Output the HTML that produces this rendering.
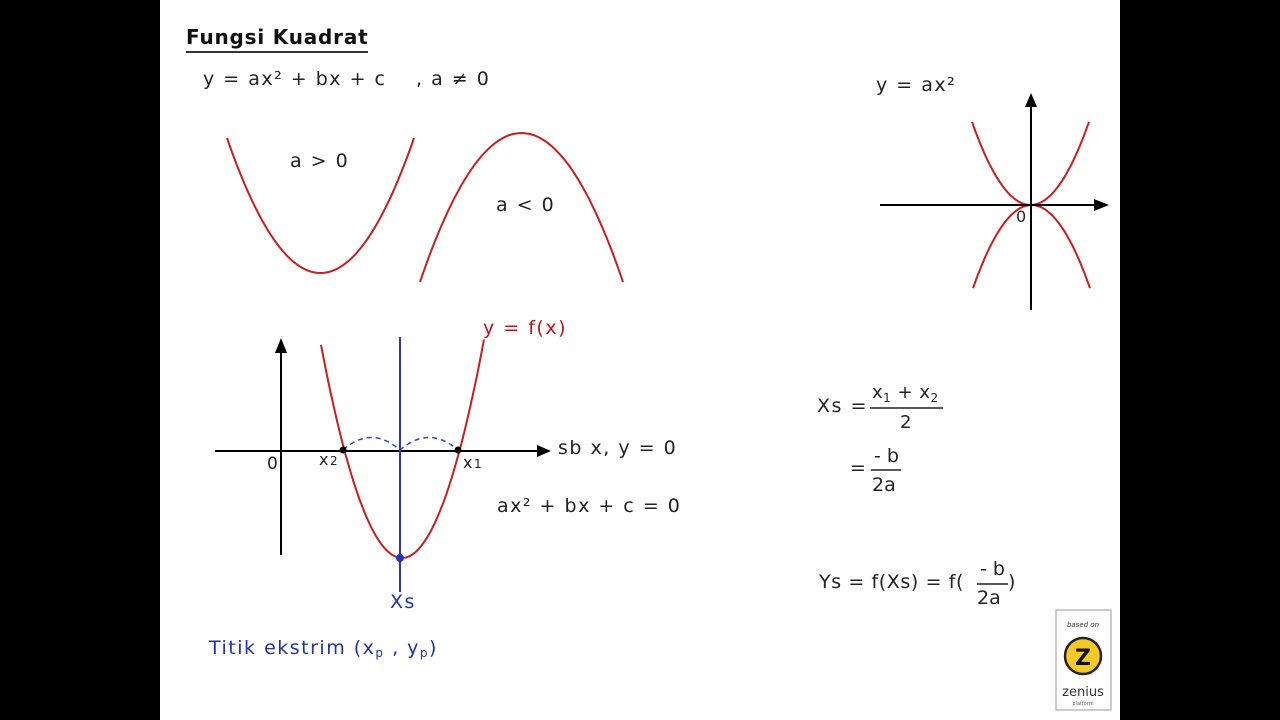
<!DOCTYPE html>
<html><head><meta charset="utf-8"><style>
html,body{margin:0;padding:0;background:#000;width:1280px;height:720px;overflow:hidden}
svg{display:block}
text{font-family:"DejaVu Sans","Liberation Sans",sans-serif;letter-spacing:1.5px}
</style></head><body>
<svg id="s" width="1280" height="720" viewBox="0 0 1280 720">
<rect x="0" y="0" width="1280" height="720" fill="#000"/>
<rect x="160" y="0" width="960" height="720" fill="#fff"/>
<text x="186" y="44" font-size="20" font-weight="bold" fill="#111" style="letter-spacing:0.8px">Fungsi Kuadrat</text>
<line x1="186" y1="52" x2="368" y2="52" stroke="#333" stroke-width="2"/>
<text x="203" y="85" font-size="19" fill="#222">y = ax² + bx + c <tspan dx="22">,  a ≠ 0</tspan></text>
<text x="290" y="167" font-size="19" fill="#222">a &gt; 0</text>
<text x="496" y="211" font-size="19" fill="#222">a &lt; 0</text>
<text x="876" y="91" font-size="19" fill="#222">y = ax²</text>
<g id="curves"></g>
<line x1="281" y1="555" x2="281" y2="350" stroke="#000" stroke-width="2"/>
<polygon points="281,338 275,353 287,353" fill="#000"/>
<line x1="215" y1="451" x2="540" y2="451" stroke="#000" stroke-width="2"/>
<polygon points="551,451 537,445 537,457" fill="#000"/>
<text x="267" y="469" font-size="17" fill="#222">0</text>
<line x1="400" y1="337" x2="400" y2="592" stroke="#3333aa" stroke-width="2"/>
<path d="M343,450 Q371,425 400,450 Q429,425 458,450" fill="none" stroke="#3344cc" stroke-width="1.5" stroke-dasharray="5,4"/>
<circle cx="343" cy="450" r="3.5" fill="#000"/>
<circle cx="458" cy="450" r="3.5" fill="#000"/>
<circle cx="400" cy="558" r="4" fill="#2233cc"/>
<text x="319" y="465" font-size="16" fill="#222">x<tspan font-size="12">2</tspan></text>
<text x="463" y="468" font-size="16" fill="#222">x<tspan font-size="12">1</tspan></text>
<text x="483" y="334" font-size="19" fill="#c0141a">y = f(x)</text>
<text x="558" y="454" font-size="19" fill="#222">sb x, y = 0</text>
<text x="497" y="512" font-size="19" fill="#222">ax² + bx + c = 0</text>
<text x="390" y="608" font-size="19" fill="#2233aa">Xs</text>
<text x="209" y="654" font-size="19" fill="#2233aa">Titik ekstrim (x<tspan font-size="12" dy="3">p</tspan><tspan dy="-3"> , y</tspan><tspan font-size="12" dy="3">p</tspan><tspan dy="-3">)</tspan></text>
<line x1="880" y1="205" x2="1098" y2="205" stroke="#000" stroke-width="2"/>
<polygon points="1109,205 1094,199 1094,211" fill="#000"/>
<line x1="1031" y1="310" x2="1031" y2="104" stroke="#000" stroke-width="2"/>
<polygon points="1031,93 1025,107 1037,107" fill="#000"/>
<text x="1016" y="222" font-size="16" fill="#222">0</text>
<text x="817" y="412" font-size="19" fill="#222">Xs =</text>
<text x="872" y="398" font-size="18" fill="#222" style="letter-spacing:0.5px">x<tspan font-size="12" dy="4">1</tspan><tspan dy="-4"> + x</tspan><tspan font-size="12" dy="4">2</tspan></text>
<line x1="870" y1="408" x2="943" y2="408" stroke="#222" stroke-width="1.5"/>
<text x="900" y="428" font-size="18" fill="#222">2</text>
<text x="850" y="474" font-size="19" fill="#222">=</text>
<text x="874" y="462" font-size="19" fill="#222" style="letter-spacing:0">- b</text>
<line x1="871" y1="470" x2="901" y2="470" stroke="#222" stroke-width="1.5"/>
<text x="872" y="491" font-size="19" fill="#222" style="letter-spacing:0">2a</text>
<text x="819" y="588" font-size="19" fill="#222" style="letter-spacing:0.6px">Ys = f(Xs) = f(</text>
<text x="980" y="575" font-size="19" fill="#222" style="letter-spacing:0">- b</text>
<line x1="977" y1="584" x2="1008" y2="584" stroke="#222" stroke-width="1.5"/>
<text x="977" y="604" font-size="19" fill="#222" style="letter-spacing:0">2a</text>
<text x="1008" y="588" font-size="19" fill="#222">)</text>
<g>
<rect x="1056" y="610" width="55" height="100" fill="#fff" stroke="#bbb" stroke-width="1.5"/>
<text x="1083" y="627" font-size="7" font-style="italic" text-anchor="middle" fill="#333" style="letter-spacing:0">based on</text>
<circle cx="1083" cy="656" r="18" fill="#f5c928" stroke="#222" stroke-width="2.5"/>
<text x="1083" y="665" font-size="22" font-weight="bold" text-anchor="middle" fill="#111" style="letter-spacing:0">Z</text>
<text x="1083" y="696" font-size="13" text-anchor="middle" fill="#333" style="letter-spacing:0">zenius</text>
<text x="1083" y="705" font-size="5" text-anchor="middle" fill="#666" style="letter-spacing:0">platform</text>
</g>
</svg>
<script>
const curveNames=['parabola-a-positive','parabola-a-negative','parabola-fx','small-parabola-up','small-parabola-down'];
const vertexX=[320.5,521.5,402,1030.5,1031.5];
const vertexY=[273,133,558,205,205];
const coefK=[-0.01544,0.01446,-0.0325,-0.0243,0.0243];
const xMin=[227,420,321,972,973];
const xMax=[414,623,484,1089,1090];
const g=document.getElementById('curves');
for(let i=0;i<curveNames.length;i++){
  let d='';
  for(let s=0;s<=60;s++){
    const x=xMin[i]+(xMax[i]-xMin[i])*s/60;
    const y=vertexY[i]+coefK[i]*(x-vertexX[i])*(x-vertexX[i]);
    d+=(s?'L':'M')+x.toFixed(1)+','+y.toFixed(1);
  }
  const p=document.createElementNS('http://www.w3.org/2000/svg','path');
  p.setAttribute('d',d);p.setAttribute('fill','none');
  p.setAttribute('stroke','#c81e1e');p.setAttribute('stroke-width','2');
  
  
  g.appendChild(p);
}
</script>
</body></html>
